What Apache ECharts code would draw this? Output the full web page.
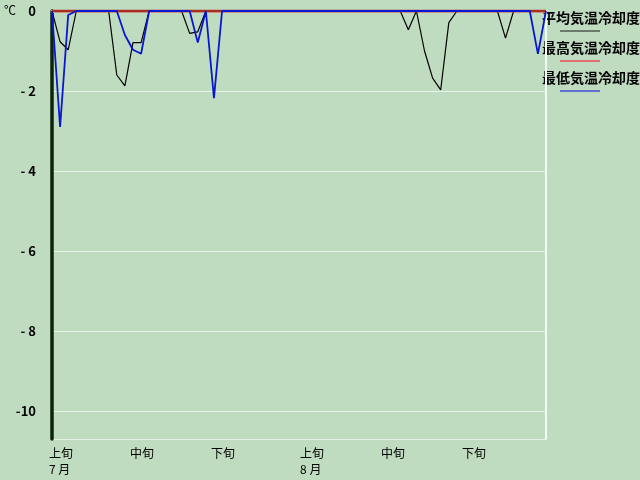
<!DOCTYPE html>
<html><head><meta charset="utf-8">
<script src="https://cdn.jsdelivr.net/npm/echarts@6/dist/echarts.min.js"></script>
<style>html,body{margin:0;padding:0;background:#c0dcc0}#c{width:640px;height:480px}</style>
</head><body><div id="c"></div>
<script>
const days = ['7/1','7/2','7/3','7/4','7/5','7/6','7/7','7/8','7/9','7/10','7/11','7/12','7/13','7/14','7/15','7/16','7/17','7/18','7/19','7/20','7/21','7/22','7/23','7/24','7/25','7/26','7/27','7/28','7/29','7/30','7/31',
'8/1','8/2','8/3','8/4','8/5','8/6','8/7','8/8','8/9','8/10','8/11','8/12','8/13','8/14','8/15','8/16','8/17','8/18','8/19','8/20','8/21','8/22','8/23','8/24','8/25','8/26','8/27','8/28','8/29','8/30','8/31'];
const tickIndex = [0, 10, 20, 31, 41, 51];
const tickLabels = ['上旬\n7 月', '中旬', '下旬', '上旬\n8 月', '中旬', '下旬'];
const seriesNames = ['平均気温冷却度', '最高気温冷却度', '最低気温冷却度'];
const avgVals = [0,-0.77,-0.97,0,0,0,0,0,-1.6,-1.87,-0.79,-0.79,0,0,0,0,0,-0.56,-0.52,0,0,0,0,0,0,0,0,0,0,0,0,
0,0,0,0,0,0,0,0,0,0,0,0,0,-0.47,0,-1.0,-1.68,-1.97,-0.29,0,0,0,0,0,0,-0.68,0,0,0,0,0];
const maxVals = [0,0,0,0,0,0,0,0,0,0,0,0,0,0,0,0,0,0,0,0,0,0,0,0,0,0,0,0,0,0,0,
0,0,0,0,0,0,0,0,0,0,0,0,0,0,0,0,0,0,0,0,0,0,0,0,0,0,0,0,0,0,0];
const minVals = [0,-2.9,-0.1,0,0,0,0,0,0,-0.6,-0.97,-1.07,0,0,0,0,0,0,-0.79,0,-2.18,0,0,0,0,0,0,0,0,0,0,
0,0,0,0,0,0,0,0,0,0,0,0,0,0,0,0,0,0,0,0,0,0,0,0,0,0,0,0,0,-1.07,0];
const yTicks = [0,-2,-4,-6,-8,-10];

const lineColors = ['#000000', '#a83020', '#0818d0'];
const legendColors = ['#6b7a6b', '#e07070', '#6070d0'];
const font = '"Noto Sans CJK JP", sans-serif';

const chart = echarts.init(document.getElementById('c'));
const graphics = [{type:'text', left:4, top:4, style:{text:'℃', font:'12px ' + font, fill:'#000'}}];
seriesNames.forEach((n, i) => {
  graphics.push({type:'text', left:542, top:11 + i*30, style:{text:n, font:'bold 14px ' + font, fill:'#000'}});
  graphics.push({type:'line', shape:{x1:560, y1:31 + i*30, x2:600, y2:31 + i*30}, style:{stroke:legendColors[i], lineWidth:2}});
});

chart.setOption({
  backgroundColor: '#c0dcc0',
  animation: false,
  grid: {left: 52, right: 94, top: 11, bottom: 41},
  xAxis: {
    type: 'category', data: days, boundaryGap: false,
    axisLine: {lineStyle: {color: '#f4fff4', width: 2.5}},
    axisTick: {show: false},
    splitLine: {show: false},
    axisLabel: {
      interval: (idx) => tickIndex.includes(idx),
      formatter: (v, idx) => tickLabels[tickIndex.indexOf(idx)] || '',
      align: 'left', verticalAlign: 'top', margin: 6, lineHeight: 16,
      fontFamily: font, fontSize: 12, color: '#000', padding: [0,0,0,-3]
    }
  },
  yAxis: [{
    type: 'value', min: -10.7, max: 0,
    axisLine: {show: true, lineStyle: {color: '#0c240c', width: 3.5}},
    axisTick: {show: false},
    splitLine: {show: true, lineStyle: {color: '#e6f3e6', width: 1}},
    axisLabel: {
      showMinLabel: false,
      formatter: (v) => { if (!yTicks.includes(v)) return ''; if (v === 0) return '0'; const a = Math.abs(v); return a >= 10 ? '-' + a : '- ' + a; },
      fontFamily: font, fontWeight: 'bold', fontSize: 13, color: '#000', margin: 16
    }
  }, {
    type: 'value', min: -10.7, max: 0, position: 'right',
    axisLine: {show: true, lineStyle: {color: '#f4fff4', width: 2}},
    axisTick: {show: false}, axisLabel: {show: false}, splitLine: {show: false}
  }],
  graphic: graphics,
  series: [
    {name: seriesNames[0], type: 'line', data: avgVals, symbol: 'none', lineStyle: {color: lineColors[0], width: 1.2}, z: 3},
    {name: seriesNames[1], type: 'line', data: maxVals, symbol: 'none', lineStyle: {color: lineColors[1], width: 3}, z: 4},
    {name: seriesNames[2], type: 'line', data: minVals, symbol: 'none', lineStyle: {color: lineColors[2], width: 1.8}, z: 5}
  ]
});
</script></body></html>
